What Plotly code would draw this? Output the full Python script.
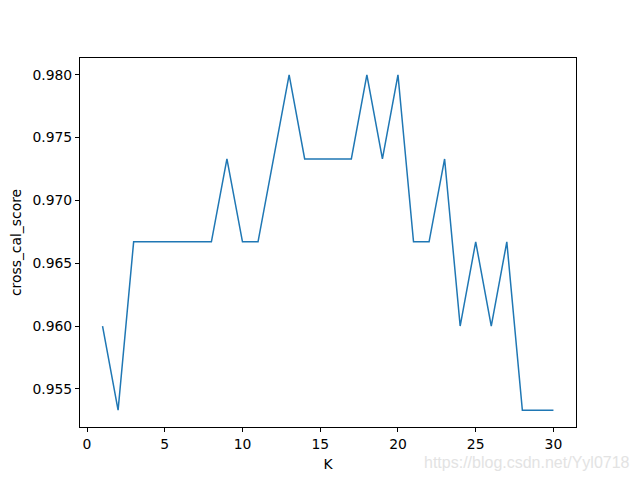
import plotly.graph_objects as go

k_values = list(range(1, 31))
scores = [0.96, 0.9533, 0.9667, 0.9667, 0.9667, 0.9667, 0.9667, 0.9667, 0.9733, 0.9667,
          0.9667, 0.9733, 0.98, 0.9733, 0.9733, 0.9733, 0.9733, 0.98, 0.9733, 0.98,
          0.9667, 0.9667, 0.9733, 0.96, 0.9667, 0.96, 0.9667, 0.9533, 0.9533, 0.9533]
x_ticks = [0, 5, 10, 15, 20, 25, 30]
y_ticks = [0.955, 0.960, 0.965, 0.970, 0.975, 0.980]
x_label = "K"
y_label = "cross_cal_score"
watermark = "https://blog.csdn.net/Yyl0718"

ymin, ymax = min(scores), max(scores)
pad = (ymax - ymin) * 0.05
xpad = (max(k_values) - min(k_values)) * 0.05

fig = go.Figure(go.Scatter(x=k_values, y=scores, mode="lines",
                           line=dict(color="#1f77b4", width=1.5)))

axis_common = dict(showline=True, mirror=True, linecolor="black", linewidth=1,
                   showgrid=False, zeroline=False, ticks="outside", ticklen=4,
                   tickwidth=1, tickcolor="black",
                   tickfont=dict(family="DejaVu Sans", size=13.9, color="black"))

fig.update_layout(
    width=632, height=472,
    margin=dict(l=72, r=64, t=50, b=53, autoexpand=False),
    paper_bgcolor="white", plot_bgcolor="white",
    showlegend=False,
    font=dict(family="DejaVu Sans", size=13.9, color="black"),
    xaxis=dict(range=[min(k_values) - xpad, max(k_values) + xpad],
               tickvals=x_ticks, title=dict(text=x_label, standoff=8, font=dict(size=13.9)),
               **axis_common),
    yaxis=dict(range=[ymin - pad, ymax + pad], tickvals=y_ticks, tickformat=".3f",
               title=dict(text=y_label, standoff=10, font=dict(size=13.9)),
               **axis_common),
    annotations=[dict(text=watermark, xref="paper", yref="paper", x=1.113, y=-0.068,
                      xanchor="right", yanchor="top", showarrow=False,
                      font=dict(family="Liberation Sans", size=16, color="#e3e3e3"))],
)

fig.write_html("out.html")
